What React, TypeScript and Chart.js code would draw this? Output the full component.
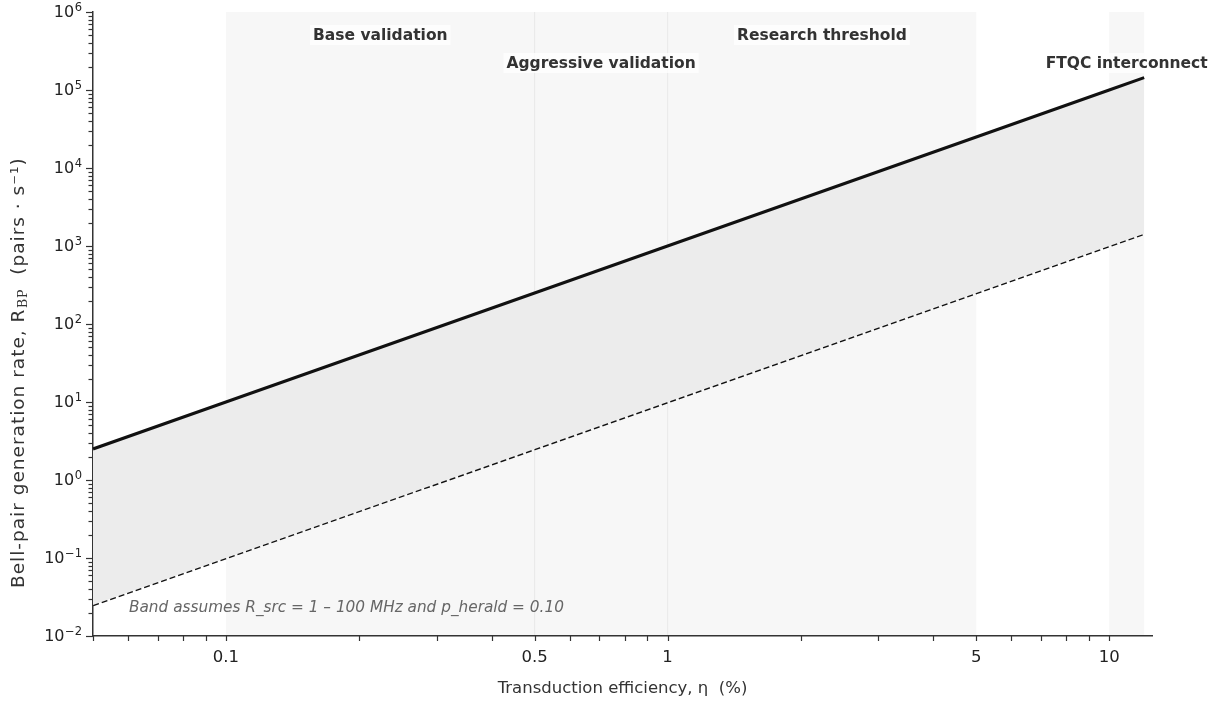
import React, { useEffect, useRef } from 'react';
import { Chart, registerables } from 'chart.js';

Chart.register(...registerables);

// Transduction efficiency η (%) at the line vertices (power law → straight on log-log axes)
const efficiency = [0.05, 0.1, 0.5, 1, 5, 10, 12];
// Bell-pair rate for R_src = 100 MHz (upper edge) and R_src = 1 MHz (lower edge)
const rateHigh = [2.5, 10, 250, 1000, 25000, 100000, 144000];
const rateLow = [0.025, 0.1, 2.5, 10, 250, 1000, 1440];

// Shaded efficiency regimes
const regionNames = ['Base validation', 'Aggressive validation', 'Research threshold', 'FTQC interconnect'];
const regionStart = [0.1, 0.5, 1, 10];
const regionEnd = [0.5, 1, 5, 12];
const regionRow = [0, 1, 0, 1];

// Axis ranges and labelled ticks
const xMin = 0.05;
const xMax = 12.5;
const yMin = 1e-2;
const yMax = 1e6;
const xLabelledTicks = [0.1, 0.5, 1, 5, 10];
const yDecades = [-2, -1, 0, 1, 2, 3, 4, 5, 6];

const noteText = 'Band assumes R_src = 1 – 100 MHz and p_herald = 0.10';
const xTitle = 'Transduction efficiency, η  (%)';

const FONT = '"DejaVu Sans", "Noto Sans", sans-serif';

// log-scale tick positions: every n·10^k inside [lo, hi]
function logTicks(lo: number, hi: number): number[] {
  const out: number[] = [];
  for (let k = Math.floor(Math.log10(lo)); k <= Math.ceil(Math.log10(hi)); k++) {
    for (let n = 1; n <= 9; n++) {
      const v = parseFloat((n * Math.pow(10, k)).toPrecision(6));
      if (v >= lo * 0.9999 && v <= hi * 1.0001) out.push(v);
    }
  }
  return out;
}

const near = (a: number, b: number) => Math.abs(a - b) / b < 1e-6;

const overlayPlugin = {
  id: 'overlay',
  beforeDraw(chart: any) {
    const { ctx, chartArea, scales } = chart;
    const xs = scales.x;
    ctx.save();
    // regime bands
    regionStart.forEach((s, i) => {
      const x0 = xs.getPixelForValue(s);
      const x1 = xs.getPixelForValue(regionEnd[i]);
      ctx.fillStyle = '#f7f7f7';
      ctx.fillRect(x0, chartArea.top, x1 - x0, chartArea.bottom - chartArea.top);
    });
    // faint borders where neighbouring regimes meet
    ctx.strokeStyle = '#ebebeb';
    ctx.lineWidth = 1.2;
    [0.5, 1].forEach((v) => {
      const px = xs.getPixelForValue(v);
      ctx.beginPath();
      ctx.moveTo(px, chartArea.top);
      ctx.lineTo(px, chartArea.bottom);
      ctx.stroke();
    });
    ctx.restore();
  },
  afterDraw(chart: any) {
    const { ctx, chartArea, scales } = chart;
    const xs = scales.x;
    const ys = scales.y;
    ctx.save();

    // tick marks
    ctx.strokeStyle = '#333';
    ctx.lineWidth = 1.2;
    ys.ticks.forEach((t: any) => {
      const py = Math.round(ys.getPixelForValue(t.value)) + 0.5;
      const major = yDecades.some((d) => near(t.value, Math.pow(10, d)));
      const len = major ? 7 : 4.5;
      ctx.beginPath();
      ctx.moveTo(chartArea.left - len, py);
      ctx.lineTo(chartArea.left, py);
      ctx.stroke();
    });
    xs.ticks.forEach((t: any) => {
      const px = Math.round(xs.getPixelForValue(t.value)) + 0.5;
      ctx.beginPath();
      ctx.moveTo(px, chartArea.bottom);
      ctx.lineTo(px, chartArea.bottom + 5);
      ctx.stroke();
    });

    // y tick labels: 10 with a raised exponent
    ctx.fillStyle = '#222';
    ctx.textAlign = 'right';
    yDecades.forEach((d) => {
      const py = ys.getPixelForValue(Math.pow(10, d));
      const exp = d < 0 ? `−${-d}` : String(d);
      const right = chartArea.left - 11;
      ctx.font = `11.5px ${FONT}`;
      ctx.textBaseline = 'alphabetic';
      const ew = ctx.measureText(exp).width;
      ctx.fillText(exp, right, py - 1.5);
      ctx.font = `16px ${FONT}`;
      ctx.textBaseline = 'middle';
      ctx.fillText('10', right - ew - 0.5, py + 0.5);
    });

    // regime labels
    ctx.font = `bold 15.5px ${FONT}`;
    ctx.textAlign = 'center';
    ctx.textBaseline = 'middle';
    regionNames.forEach((name, i) => {
      const cx = xs.getPixelForValue(Math.sqrt(regionStart[i] * regionEnd[i]));
      const cy = chartArea.top + (regionRow[i] === 0 ? 23 : 51);
      const w = ctx.measureText(name).width;
      ctx.fillStyle = 'rgba(255,255,255,0.75)';
      ctx.fillRect(cx - w / 2 - 3, cy - 10, w + 6, 20);
      ctx.fillStyle = '#333';
      ctx.fillText(name, cx, cy + 1);
    });

    // band note
    ctx.font = `italic 15.3px ${FONT}`;
    ctx.textAlign = 'left';
    ctx.fillStyle = '#666';
    ctx.fillText(noteText, chartArea.left + 36, chartArea.bottom - 28);

    // x-axis title
    ctx.font = `16.5px ${FONT}`;
    ctx.fillStyle = '#333';
    ctx.textAlign = 'center';
    ctx.fillText(xTitle, (chartArea.left + chartArea.right) / 2, chart.height - 13);

    // y-axis title with subscripted R_BP
    ctx.translate(19, chartArea.bottom - 48);
    ctx.rotate(-Math.PI / 2);
    ctx.textAlign = 'left';
    ctx.textBaseline = 'middle';
    (ctx as any).letterSpacing = '1px';
    ctx.font = `18.5px ${FONT}`;
    const partA = 'Bell-pair generation rate, R';
    ctx.fillText(partA, 0, 0);
    let cursor = ctx.measureText(partA).width;
    ctx.font = `12.5px "DejaVu Serif", serif`;
    ctx.fillText('BP', cursor + 0.5, 4.5);
    cursor += ctx.measureText('BP').width + 0.5;
    ctx.font = `18.5px ${FONT}`;
    ctx.fillText('  (pairs · s⁻¹)', cursor, 0);
    (ctx as any).letterSpacing = '0px';

    ctx.restore();
  },
};

export default function App() {
  const canvasRef = useRef<HTMLCanvasElement | null>(null);

  useEffect(() => {
    if (!canvasRef.current) return;
    const xTickValues = logTicks(xMin, xMax);
    const yTickValues = logTicks(yMin, yMax);

    const chart = new Chart(canvasRef.current, {
      type: 'line',
      data: {
        datasets: [
          {
            label: 'R_src = 100 MHz',
            data: efficiency.map((x, i) => ({ x, y: rateHigh[i] })),
            borderColor: '#111',
            borderWidth: 3,
            pointRadius: 0,
            tension: 0,
            fill: '+1',
            backgroundColor: '#ececec',
          },
          {
            label: 'R_src = 1 MHz',
            data: efficiency.map((x, i) => ({ x, y: rateLow[i] })),
            borderColor: '#111',
            borderWidth: 2.8,
            borderDash: [6, 3],
            pointRadius: 0,
            tension: 0,
            fill: false,
          },
        ],
      },
      options: {
        animation: false,
        responsive: true,
        maintainAspectRatio: false,
        layout: { padding: { top: 12, right: 66, left: 0, bottom: 0 } },
        plugins: {
          legend: { display: false },
          tooltip: { enabled: false },
        },
        scales: {
          x: {
            type: 'logarithmic',
            min: xMin,
            max: xMax,
            afterBuildTicks: (s: any) => {
              s.ticks = xTickValues.map((v) => ({ value: v }));
            },
            afterFit: (s: any) => {
              s.height = 66;
              s.paddingLeft = 0;
              s.paddingRight = 0;
            },
            ticks: {
              autoSkip: false,
              maxRotation: 0,
              padding: 12,
              color: '#222',
              font: { family: FONT, size: 16.5 },
              callback: (v: any) => {
                const m = xLabelledTicks.find((t) => near(Number(v), t));
                return m !== undefined ? String(m) : '';
              },
            },
            grid: { display: false, drawTicks: false, tickLength: 0 },
            border: { display: true, color: '#333', width: 1.5 },
          },
          y: {
            type: 'logarithmic',
            min: yMin,
            max: yMax,
            afterBuildTicks: (s: any) => {
              s.ticks = yTickValues.map((v) => ({ value: v }));
            },
            afterFit: (s: any) => {
              s.width = 93;
              s.paddingTop = 0;
              s.paddingBottom = 0;
            },
            ticks: {
              autoSkip: false,
              padding: 12,
              font: { family: FONT, size: 16 },
              callback: () => '',
            },
            grid: { display: false, drawTicks: false, tickLength: 0 },
            border: { display: true, color: '#333', width: 1.5 },
          },
        },
      },
      plugins: [overlayPlugin],
    });

    return () => chart.destroy();
  }, []);

  return (
    <div style={{ position: 'fixed', left: 0, top: 0, width: '100vw', height: '100vh', background: '#fff' }}>
      <canvas ref={canvasRef} />
    </div>
  );
}
